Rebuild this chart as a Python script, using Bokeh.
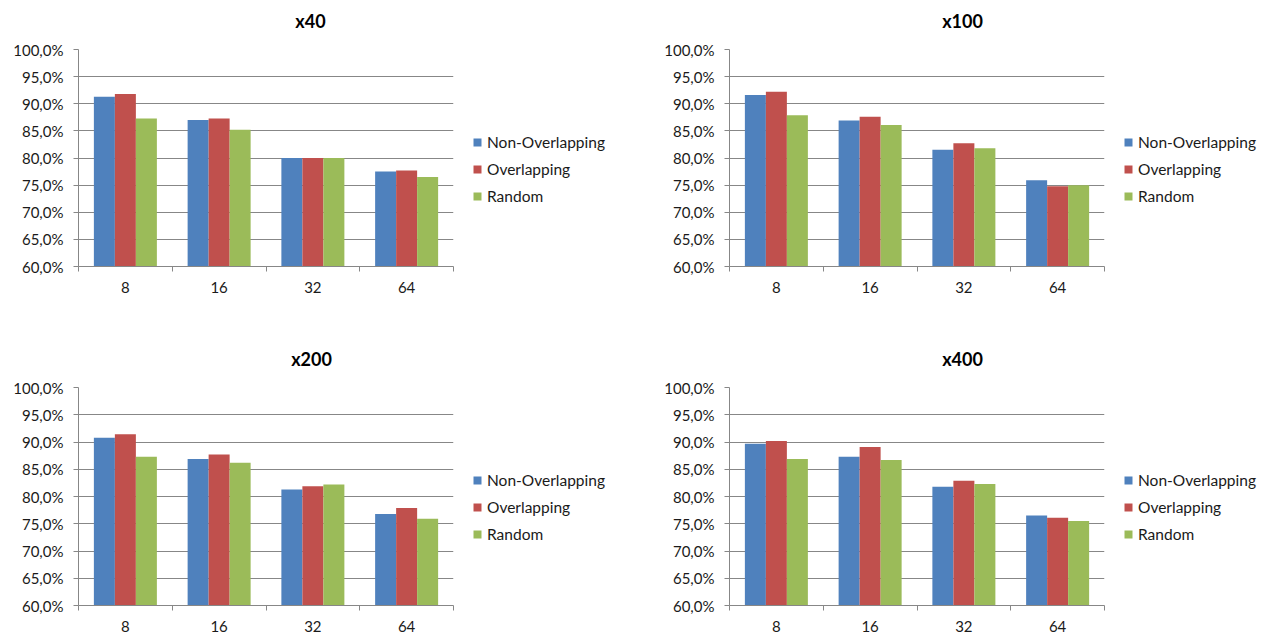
from bokeh.plotting import figure
from bokeh.models import Range1d, FixedTicker, Legend, LegendItem, Label
from bokeh.layouts import row, column
from bokeh.embed import file_html
from bokeh.resources import INLINE

categories = ["8", "16", "32", "64"]
series = ["Non-Overlapping", "Overlapping", "Random"]
colors = ["#4F81BD", "#C0504D", "#9BBB59"]
titles = ["x40", "x100", "x200", "x400"]

x40_non_overlapping = [91.3, 87.0, 80.0, 77.5]
x40_overlapping = [91.8, 87.3, 80.0, 77.7]
x40_random = [87.3, 85.2, 80.0, 76.5]

x100_non_overlapping = [91.6, 86.9, 81.5, 75.9]
x100_overlapping = [92.2, 87.6, 82.7, 74.8]
x100_random = [87.9, 86.1, 81.8, 75.0]

x200_non_overlapping = [90.8, 86.9, 81.3, 76.8]
x200_overlapping = [91.4, 87.7, 81.9, 77.9]
x200_random = [87.3, 86.2, 82.2, 75.9]

x400_non_overlapping = [89.7, 87.3, 81.8, 76.5]
x400_overlapping = [90.2, 89.1, 82.9, 76.1]
x400_random = [86.9, 86.7, 82.3, 75.5]

y_ticks = [60, 65, 70, 75, 80, 85, 90, 95, 100]
y_tick_labels = ["60,0%", "65,0%", "70,0%", "75,0%", "80,0%", "85,0%", "90,0%", "95,0%", "100,0%"]

panels = [
    (titles[0], [x40_non_overlapping, x40_overlapping, x40_random]),
    (titles[1], [x100_non_overlapping, x100_overlapping, x100_random]),
    (titles[2], [x200_non_overlapping, x200_overlapping, x200_random]),
    (titles[3], [x400_non_overlapping, x400_overlapping, x400_random]),
]

FONT = "Lato"
GRID = "#878787"
TEXT = "#1a1a1a"
BAR_W = 0.224
CELL_W = 636
STRIP_H = 38
TITLE_CENTER_X = [310, 326, 311, 326]


def bare(width, height, xr, yr):
    p = figure(width=width, height=height, x_range=xr, y_range=yr,
               output_backend="svg", toolbar_location=None, tools="",
               x_axis_location=None, y_axis_location=None,
               min_border_left=0, min_border_right=0,
               min_border_top=0, min_border_bottom=0)
    p.outline_line_color = None
    p.xgrid.visible = False
    p.ygrid.visible = False
    p.background_fill_color = "white"
    p.border_fill_color = "white"
    return p


def title_strip(text, cx):
    p = bare(CELL_W, STRIP_H, Range1d(0, CELL_W), Range1d(0, STRIP_H))
    p.add_layout(Label(x=cx, y=STRIP_H - 20, text=text, text_align="center",
                       text_baseline="middle", text_font=FONT,
                       text_font_style="bold", text_font_size="18px",
                       text_color="black"))
    return p


def bar_x(k):
    n = len(series)
    return [i + 0.5 + (k - (n - 1) / 2) * BAR_W for i in range(len(categories))]


def chart(data, col, top):
    h = 300 if top else 259
    frame_h = 217 if top else 218
    bl = 78 if col == 0 else 93
    w = bl + 375 + 1
    p = figure(width=w, height=h, x_range=Range1d(0, len(categories)),
               y_range=Range1d(y_ticks[0], y_ticks[-1]),
               output_backend="svg", toolbar_location=None, tools="",
               min_border_left=bl, min_border_right=1, min_border_top=11,
               min_border_bottom=h - 11 - frame_h)
    p.outline_line_color = None
    p.background_fill_color = "white"
    p.border_fill_color = "white"

    for k, (vals, c) in enumerate(zip(data, colors)):
        p.vbar(x=bar_x(k), top=vals, bottom=y_ticks[0], width=BAR_W,
               fill_color=c, line_color=None)

    centers = [i + 0.5 for i in range(len(categories))]
    bounds = [float(i) for i in range(len(categories) + 1)]
    xa = p.xaxis[0]
    xa.ticker = FixedTicker(ticks=centers, minor_ticks=bounds)
    xa.major_label_overrides = {c: lab for c, lab in zip(centers, categories)}
    xa.major_tick_out = 0
    xa.major_tick_in = 0
    xa.minor_tick_out = 5
    xa.minor_tick_in = 0
    xa.minor_tick_line_color = GRID
    xa.axis_line_color = GRID
    xa.major_label_standoff = 10
    xa.major_label_text_font = FONT
    xa.major_label_text_font_size = "15px"
    xa.major_label_text_color = TEXT

    ya = p.yaxis[0]
    ya.ticker = FixedTicker(ticks=y_ticks)
    ya.major_label_overrides = {t: lab for t, lab in zip(y_ticks, y_tick_labels)}
    ya.major_tick_out = 5
    ya.major_tick_in = 0
    ya.minor_tick_out = 0
    ya.minor_tick_in = 0
    ya.major_tick_line_color = GRID
    ya.axis_line_color = GRID
    ya.major_label_standoff = 10
    ya.major_label_text_font = FONT
    ya.major_label_text_font_size = "15px"
    ya.major_label_text_color = TEXT

    p.xgrid.visible = False
    p.ygrid.ticker = FixedTicker(ticks=y_ticks)
    p.ygrid.grid_line_color = GRID
    p.ygrid.grid_line_width = 1
    return p, w


def legend_fig(width, top, data):
    h = 300 if top else 259
    # legend-only panel: its frame is aligned with the chart frame; the series
    # renderers here are hidden so only their legend entries show
    p = bare(width, h, Range1d(0, 1), Range1d(0, 1))
    items = []
    for k, (name, vals, c) in enumerate(zip(series, data, colors)):
        r = p.vbar(x=bar_x(k), top=vals, bottom=y_ticks[0], width=BAR_W,
                   fill_color=c, line_color=None, visible=False)
        items.append(LegendItem(label=name, renderers=[r]))
    legend = Legend(items=items, location=(18, 60 if top else 61),
                    border_line_color=None, background_fill_alpha=0,
                    inactive_fill_alpha=0,
                    padding=0, margin=0, spacing=7, label_height=20,
                    glyph_width=10, glyph_height=10, label_standoff=5,
                    label_text_font=FONT, label_text_font_size="15.5px",
                    label_text_color=TEXT)
    p.add_layout(legend)
    return p


rows = []
for r in range(2):
    strips = []
    cells = []
    for c in range(2):
        i = r * 2 + c
        t, d = panels[i]
        strips.append(title_strip(t, TITLE_CENTER_X[i]))
        ch, w = chart(d, c, r == 0)
        cells.append(ch)
        cells.append(legend_fig(CELL_W - w, r == 0, d))
    rows.append(row(*strips))
    rows.append(row(*cells))

layout = column(*rows)
open("out.html", "w").write(file_html(layout, INLINE))
